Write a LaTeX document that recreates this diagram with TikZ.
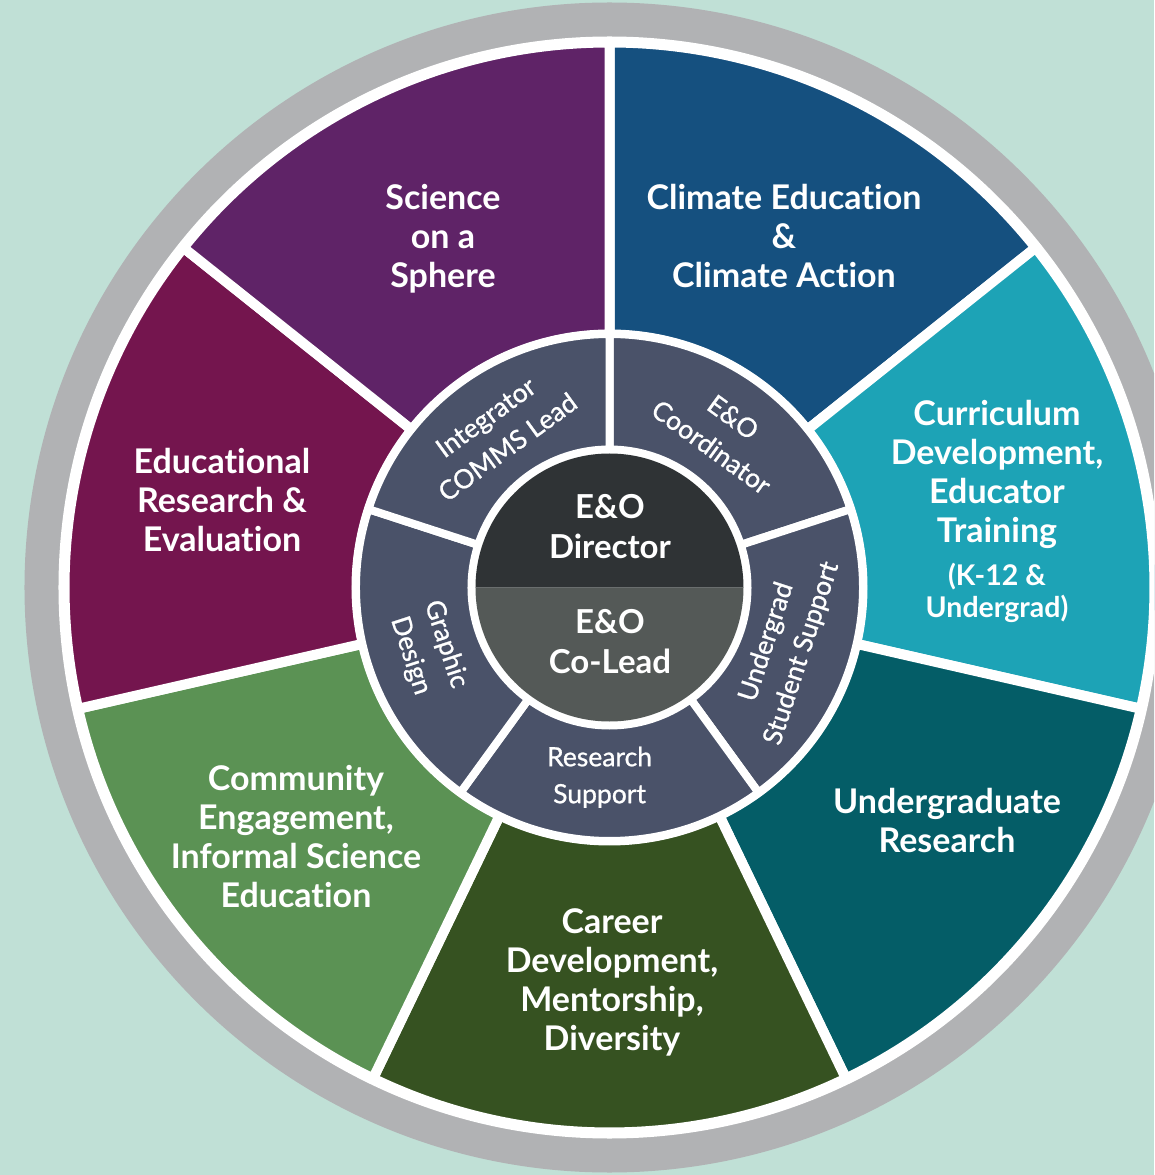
\documentclass[tikz,border=0pt]{standalone}
\usepackage{fontspec}
\setmainfont{Lato}[Ligatures=CommonOff]
\newfontfamily\ringfont{Lato}[FakeBold=0.9, Ligatures=CommonOff]
\usetikzlibrary{positioning}
\definecolor{mint}{HTML}{C0E0D6}
\definecolor{rimgray}{HTML}{B1B2B4}
\definecolor{climateblue}{HTML}{15507F}
\definecolor{curricteal}{HTML}{1DA3B6}
\definecolor{researchteal}{HTML}{045D67}
\definecolor{careergreen}{HTML}{365221}
\definecolor{communitygreen}{HTML}{5B9254}
\definecolor{evalmaroon}{HTML}{74154E}
\definecolor{spherepurple}{HTML}{5F2367}
\definecolor{staffslate}{HTML}{4A5269}
\definecolor{directorgray}{HTML}{2F3335}
\definecolor{coleadgray}{HTML}{545957}
\tikzset{
  wedge/.style={fill=#1, draw=white, line width=10pt},
  staffwedge/.style={fill=staffslate, draw=white, line width=8pt},
  area/.style={text=white, align=center, font=\bfseries\fontsize{34}{39}\selectfont},
  areanote/.style={text=white, align=center, font=\bfseries\fontsize{28.5}{32}\selectfont},
  staff/.style={text=white, align=center, font=\ringfont\fontsize{26.5}{37}\selectfont},
  lead/.style={text=white, align=center, font=\bfseries\fontsize{33}{40}\selectfont}
}
\begin{document}
\begin{tikzpicture}[x=1pt, y=1pt]
  \clip (-609.5,-587.5) rectangle (544.5,587.5);
  \fill[mint] (-609.5,-587.5) rectangle (544.5,587.5);
  \fill[rimgray] (0,0) circle (585);
  \fill[white] (0,0) circle (551);
  \foreach \col [count=\i from 0] in {climateblue,curricteal,researchteal,careergreen,communitygreen,evalmaroon,spherepurple} {
    \pgfmathsetmacro\a{90-\i*360/7}
    \pgfmathsetmacro\b{\a-360/7}
    \draw[wedge=\col] (\a:253) arc[start angle=\a, end angle=\b, radius=253]
      -- (\b:545) arc[start angle=\b, end angle=\a, radius=545] -- cycle;
  }
  \foreach \i in {0,...,4} {
    \pgfmathsetmacro\a{90-\i*72}
    \pgfmathsetmacro\b{\a-72}
    \draw[staffwedge] (\a:138) arc[start angle=\a, end angle=\b, radius=138]
      -- (\b:253.5) arc[start angle=\b, end angle=\a, radius=253.5] -- cycle;
  }
  \fill[directorgray] (134,0) arc[start angle=0, end angle=180, radius=134] -- cycle;
  \fill[coleadgray] (-134,0) arc[start angle=180, end angle=360, radius=134] -- cycle;

  \node[area] (sphere) at (-166.5,348.5) {Science\\on a\\Sphere};
  \node[area] (climate) at (174.5,351.5) {Climate Education\\\&\\Climate Action};
  \node[area] (curriculum) at (387.5,113.5) {Curriculum\\Development,\\Educator\\Training};
  \node[areanote] (grades) at (387.5,-5.5) {(K-12 \&\\Undergrad)};
  \node[area] (ugresearch) at (337.5,-233.5) {Undergraduate\\Research};
  \node[area] (career) at (2.5,-395) {Career\\Development,\\Mentorship,\\Diversity};
  \node[area] (community) at (-313.5,-249) {Community\\Engagement,\\Informal Science\\Education};
  \node[area] (evaluation) at (-387.5,87.5) {Educational\\Research \&\\Evaluation};

  \node[staff, rotate=36] (integrator) at (126:192) {Integrator\\COMMS Lead};
  \node[staff, rotate=-36] (coordinator) at (54:192) {E\&O\\Coordinator};
  \node[staff, rotate=72] (studentsupport) at (-19:185) {Undergrad\\Student Support};
  \node[staff] (researchsupport) at (-93:190) {Research\\Support};
  \node[staff, rotate=-72] (graphic) at (-161:192) {Graphic\\Design};

  \node[lead] (director) at (0.5,60.5) {E\&O\\Director};
  \node[lead] (colead) at (0.5,-54) {E\&O\\Co-Lead};
\end{tikzpicture}
\end{document}
